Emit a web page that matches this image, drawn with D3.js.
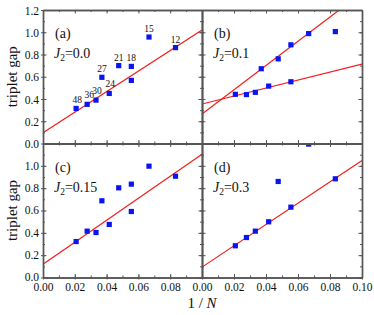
<!DOCTYPE html>
<html>
<head>
<meta charset="utf-8">
<script src="https://cdn.jsdelivr.net/npm/d3@7"></script>
<style>
  body { margin: 0; background: #fff; }
  svg text { font-family: "Liberation Serif", "DejaVu Serif", serif; fill: #111; }
  .axis path, .axis line { stroke: #555; }
</style>
</head>
<body>
<div class="chart"></div>
<script>
// Data: x = 1/N for the cluster sizes
const sizes = [48, 36, 30, 27, 24, 21, 18, 18, 15, 12];
const gapA = [0.315, 0.352, 0.39, 0.595, 0.45, 0.70, 0.693, 0.567, 0.957, 0.862];
const gapB = [0.442, 0.44, 0.46, 0.672, 0.516, 0.761, 0.887, 0.555, 0.988, 1.006];
const gapC = [0.322, 0.415, 0.403, 0.687, 0.475, 0.803, 0.836, 0.591, 0.997, 0.907];
const gapD = [0.284, 0.358, 0.415, null, 0.499, 0.86, 0.63, null, 1.195, 0.884];
// fitted lines: [intercept, value at 1/N = 0.1]
const fitA = [[0.096, 1.02]];
const fitB = [[0.266, 1.355], [0.355, 0.713]];
const fitC = [[0.119, 1.104]];
const fitD = [[0.093, 1.048]];
const panelTags = ['(a)', '(b)', '(c)', '(d)'];
const j2Values = ['0.0', '0.1', '0.15', '0.3'];
const yTicksTop = [0, 0.2, 0.4, 0.6, 0.8, 1.0, 1.2];
const yTicksBottom = [0, 0.2, 0.4, 0.6, 0.8, 1.0];
const xTicksLeft = [0, 0.02, 0.04, 0.06, 0.08];
const xTicksRight = [0, 0.02, 0.04, 0.06, 0.08, 0.10];

// label nudges for the size labels in panel (a)
const labelNudge = {48: [1, 0], 36: [2, -1], 30: [1, -1], 24: [1, -1]};

const W = 374, H = 315;
const leftX = 43, midX = 202, rightX = 362;
const topY = 10, midY = 143.5, bottomY = 277.5;

const svg = d3.select('.chart').append('svg').attr('width', W).attr('height', H);

const panels = [
  {tag: panelTags[0], j2: j2Values[0], gaps: gapA, fits: fitA, x0: leftX, x1: midX, y0: topY, y1: midY, labels: true},
  {tag: panelTags[1], j2: j2Values[1], gaps: gapB, fits: fitB, x0: midX, x1: rightX, y0: topY, y1: midY},
  {tag: panelTags[2], j2: j2Values[2], gaps: gapC, fits: fitC, x0: leftX, x1: midX, y0: midY, y1: bottomY},
  {tag: panelTags[3], j2: j2Values[3], gaps: gapD, fits: fitD, x0: midX, x1: rightX, y0: midY, y1: bottomY}
];

const minorX = d3.range(0, 0.1001, 0.01);
const minorY = d3.range(0, 1.2001, 0.1);

panels.forEach((p, i) => {
  const x = d3.scaleLinear().domain([0, 0.1]).range([p.x0, p.x1]);
  const y = d3.scaleLinear().domain([0, 1.2]).range([p.y1, p.y0]);
  const isLeft = i % 2 === 0, isBottom = i >= 2;

  const clipId = 'clip' + i;
  svg.append('clipPath').attr('id', clipId).append('rect')
     .attr('x', p.x0).attr('y', p.y0).attr('width', p.x1 - p.x0).attr('height', p.y1 - p.y0);
  const g = svg.append('g').attr('clip-path', `url(#${clipId})`);

  // fitted lines
  p.fits.forEach(f => {
    g.append('line')
     .attr('x1', x(0)).attr('y1', y(f[0]))
     .attr('x2', x(0.1)).attr('y2', y(f[1]))
     .attr('stroke', '#f21c1c').attr('stroke-width', 1.2);
  });

  // data squares
  const pts = sizes.map((n, k) => ({n, x: 1 / n, v: p.gaps[k]})).filter(d => d.v != null);
  const s = 5.2;
  g.selectAll('.pt').data(pts).enter().append('rect')
   .attr('x', d => x(d.x) - s / 2).attr('y', d => y(d.v) - s / 2)
   .attr('width', s).attr('height', s)
   .attr('fill', '#0a14f0');

  if (p.labels) {
    const seen = {};
    pts.forEach(d => {
      if (seen[d.n]) return;
      seen[d.n] = true;
      const hi = d3.max(pts.filter(e => e.n === d.n), e => e.v);
      const nd = labelNudge[d.n] || [0, 0];
      svg.append('text')
         .attr('x', x(d.x) + nd[0]).attr('y', y(hi) - 5 + nd[1])
         .attr('text-anchor', 'middle').style('font-size', '9.5px')
         .text(d.n);
    });
  }

  // axes: major ticks inward, minor ticks inward
  const major = 3.5, minor = 2;
  const xt = isLeft ? xTicksLeft : xTicksRight;
  const yt = isBottom ? yTicksBottom : yTicksTop;
  const mk = (axis, tr) => svg.append('g').attr('class', 'axis').attr('transform', tr).call(axis);

  mk(d3.axisBottom(x).tickValues(d3.range(0, 0.1001, 0.02)).tickSizeInner(-major).tickSizeOuter(0).tickFormat(''), `translate(0,${p.y1})`);
  mk(d3.axisBottom(x).tickValues(minorX).tickSizeInner(-minor).tickSizeOuter(0).tickFormat(''), `translate(0,${p.y1})`);
  mk(d3.axisTop(x).tickValues(d3.range(0, 0.1001, 0.02)).tickSizeInner(-major).tickSizeOuter(0).tickFormat(''), `translate(0,${p.y0})`);
  mk(d3.axisTop(x).tickValues(minorX).tickSizeInner(-minor).tickSizeOuter(0).tickFormat(''), `translate(0,${p.y0})`);
  mk(d3.axisLeft(y).tickValues(yTicksTop).tickSizeInner(-major).tickSizeOuter(0).tickFormat(''), `translate(${p.x0},0)`);
  mk(d3.axisLeft(y).tickValues(minorY).tickSizeInner(-minor).tickSizeOuter(0).tickFormat(''), `translate(${p.x0},0)`);
  mk(d3.axisRight(y).tickValues(yTicksTop).tickSizeInner(-major).tickSizeOuter(0).tickFormat(''), `translate(${p.x1},0)`);
  mk(d3.axisRight(y).tickValues(minorY).tickSizeInner(-minor).tickSizeOuter(0).tickFormat(''), `translate(${p.x1},0)`);

  if (isLeft) {
    const ya = mk(d3.axisLeft(y).tickValues(yt).tickSizeInner(2).tickSizeOuter(0).tickFormat(d3.format('.1f')), `translate(${p.x0},0)`);
    ya.select('.domain').remove();
    ya.selectAll('text').style('font-size', '11.5px').attr('x', -4).attr('dy', isBottom ? '0.3em' : '0.35em');
  }
  if (isBottom) {
    const xa = mk(d3.axisBottom(x).tickValues(xt).tickSizeInner(2).tickSizeOuter(0).tickFormat(d3.format('.2f')), `translate(0,${p.y1})`);
    xa.select('.domain').remove();
    xa.selectAll('text').style('font-size', '11.5px').attr('y', 5);
  }
  svg.selectAll('.axis path.domain').attr('stroke-width', 1.4);

  // panel tag and J2 label
  svg.append('text').attr('x', p.x0 + 12).attr('y', p.y0 + 28)
     .style('font-size', '14px').text(p.tag);
  const jt = svg.append('text').attr('x', p.x0 + 11).attr('y', p.y0 + 48).style('font-size', '14px');
  jt.append('tspan').style('font-style', 'italic').text('J');
  jt.append('tspan').attr('dy', 3).style('font-size', '9.5px').text('2');
  jt.append('tspan').attr('dy', -3).text('=' + p.j2);
});

// axis titles
[(topY + midY) / 2, (midY + bottomY) / 2].forEach(cy => {
  svg.append('text').attr('transform', `translate(17,${cy}) rotate(-90)`)
     .attr('text-anchor', 'middle').style('font-size', '15px').text('triplet gap');
});
const xl = svg.append('text').attr('x', midX).attr('y', 308).attr('text-anchor', 'middle').style('font-size', '15px');
xl.append('tspan').text('1 / ');
xl.append('tspan').style('font-style', 'italic').text('N');
</script>
</body>
</html>
